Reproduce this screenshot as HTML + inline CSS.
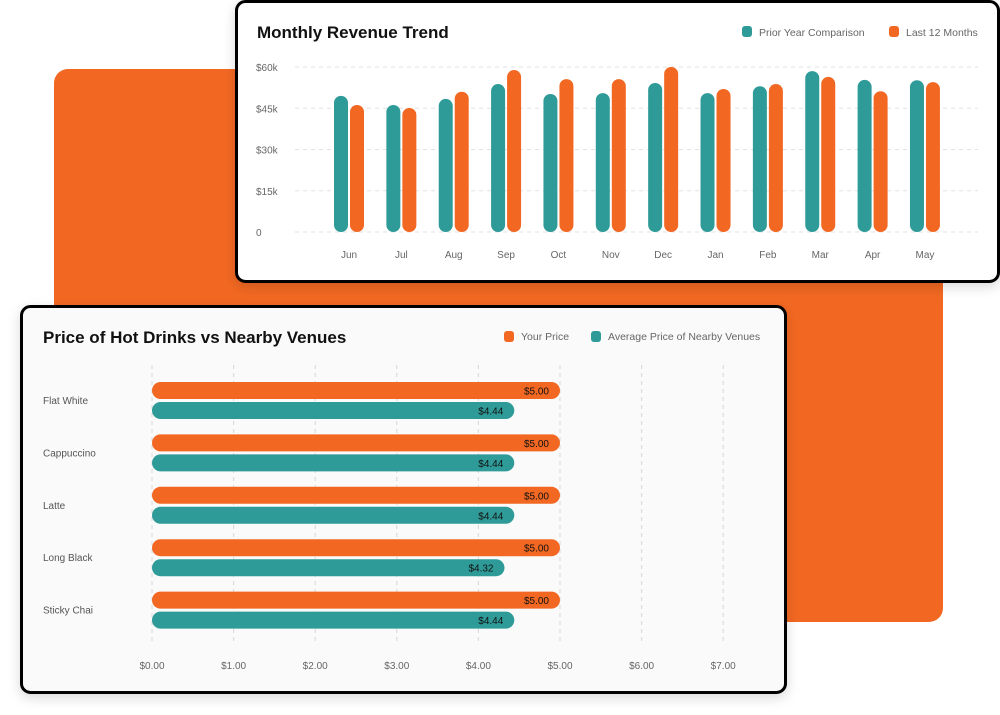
<!DOCTYPE html>
<html><head><meta charset="utf-8">
<style>
html,body{margin:0;padding:0;background:#fff;width:1000px;height:715px;overflow:hidden;font-family:"Liberation Sans",sans-serif}
svg{position:absolute;left:0;top:0}
</style></head>
<body>
<svg id="s" width="1000" height="715" viewBox="0 0 1000 715" xmlns="http://www.w3.org/2000/svg">
<defs>
<filter id="sh" x="-10%" y="-10%" width="120%" height="130%"><feDropShadow dx="0" dy="4" stdDeviation="6" flood-color="#000" flood-opacity="0.15"/></filter>
</defs>
<rect x="54" y="69" width="889" height="553" rx="14" fill="#F26822"/>
<g>
<rect x="236.5" y="1.5" width="762" height="280" rx="9" fill="#fff" stroke="#000" stroke-width="3" filter="url(#sh)"/>
<text x="257" y="38" font-size="17" font-weight="bold" fill="#111">Monthly Revenue Trend</text>
<rect x="742" y="26" width="10" height="11" rx="3" fill="#2E9B98"/>
<text x="759" y="36" font-size="10.5" fill="#666">Prior Year Comparison</text>
<rect x="889" y="26" width="10" height="11" rx="3" fill="#F26822"/>
<text x="906" y="36" font-size="10.5" fill="#666">Last 12 Months</text>
<g id="topchart"></g>
</g>
<g>
<rect x="21.5" y="306.5" width="764" height="386" rx="9" fill="#fafafa" stroke="#000" stroke-width="3" filter="url(#sh)"/>
<text x="43" y="343" font-size="17" font-weight="bold" fill="#111">Price of Hot Drinks vs Nearby Venues</text>
<rect x="504" y="331" width="10" height="11" rx="3" fill="#F26822"/>
<text x="521" y="340" font-size="10.5" fill="#666">Your Price</text>
<rect x="591" y="331" width="10" height="11" rx="3" fill="#2E9B98"/>
<text x="608" y="340" font-size="10.5" fill="#666">Average Price of Nearby Venues</text>
<g id="botchart"></g>
</g>
</svg>
<script>
const months=["Jun","Jul","Aug","Sep","Oct","Nov","Dec","Jan","Feb","Mar","Apr","May"];
const priorYear=[49.5,46.2,48.4,53.8,50.2,50.5,54.2,50.5,53,58.5,55.3,55.2];
const last12=[46.2,45.1,51,58.9,55.6,55.6,60,52,53.8,56.4,51.2,54.5];
const yTicks=[0,15,30,45,60];
const yTickLabels=["0","$15k","$30k","$45k","$60k"];
const drinks=["Flat White","Cappuccino","Latte","Long Black","Sticky Chai"];
const yourPrice=[5.00,5.00,5.00,5.00,5.00];
const avgPrice=[4.44,4.44,4.44,4.32,4.44];
const xTicks=[0,1,2,3,4,5,6,7];
const xTickLabels=["$0.00","$1.00","$2.00","$3.00","$4.00","$5.00","$6.00","$7.00"];

const NS="http://www.w3.org/2000/svg";
function mk(parent,tag,attrs,text){const e=document.createElementNS(NS,tag);for(const k in attrs)e.setAttribute(k,attrs[k]);if(text!==undefined)e.textContent=text;parent.appendChild(e);return e;}

// top chart
const topG=document.getElementById('topchart');
const yS=v=>232-v*(165/60);
const xS=i=>349+i*52.36;
yTicks.forEach((t,i)=>{
  const l=mk(topG,'line',{x1:295,x2:978,y1:yS(t),y2:yS(t),stroke:'#e2e2e2','stroke-dasharray':'4 4'});
  
  
  const tx=mk(topG,'text',{x:256,y:yS(t)+4,'font-size':10,fill:'#666'},yTickLabels[i]);
  
  
});
months.forEach((m,i)=>{
  const c=xS(i);
  const a=mk(topG,'rect',{x:c-15,y:yS(priorYear[i]),width:14,height:232-yS(priorYear[i]),rx:7,fill:'#2E9B98'});
  
  
  const b=mk(topG,'rect',{x:c+1,y:yS(last12[i]),width:14,height:232-yS(last12[i]),rx:7,fill:'#F26822'});
  
  
  const t=mk(topG,'text',{x:c,y:258,'font-size':10,fill:'#666','text-anchor':'middle'},m);
  
  
});

// bottom chart
const botG=document.getElementById('botchart');
const pS=v=>152+v*81.6;
xTicks.forEach((t,i)=>{
  const l=mk(botG,'line',{x1:pS(t),x2:pS(t),y1:365,y2:643,stroke:'#d6d6d6','stroke-dasharray':'4 4'});
  
  
  const tx=mk(botG,'text',{x:pS(t),y:669,'font-size':10,fill:'#666','text-anchor':'middle'},xTickLabels[i]);
  
  
});
drinks.forEach((d,i)=>{
  const y0=382+i*52.4;
  const lab=mk(botG,'text',{x:43,y:y0+22,'font-size':10,fill:'#555'},d);
  
  
  const a=mk(botG,'rect',{x:152,y:y0,width:pS(yourPrice[i])-152,height:17,rx:8.5,fill:'#F26822'});
  
  
  const at=mk(botG,'text',{x:pS(yourPrice[i])-11,y:y0+12.5,'font-size':10,fill:'#111','text-anchor':'end'},'$'+yourPrice[i].toFixed(2));
  
  
  const b=mk(botG,'rect',{x:152,y:y0+20,width:pS(avgPrice[i])-152,height:17,rx:8.5,fill:'#2E9B98'});
  
  
  const bt=mk(botG,'text',{x:pS(avgPrice[i])-11,y:y0+32.5,'font-size':10,fill:'#111','text-anchor':'end'},'$'+avgPrice[i].toFixed(2));
  
  
});
</script>
</body></html>
